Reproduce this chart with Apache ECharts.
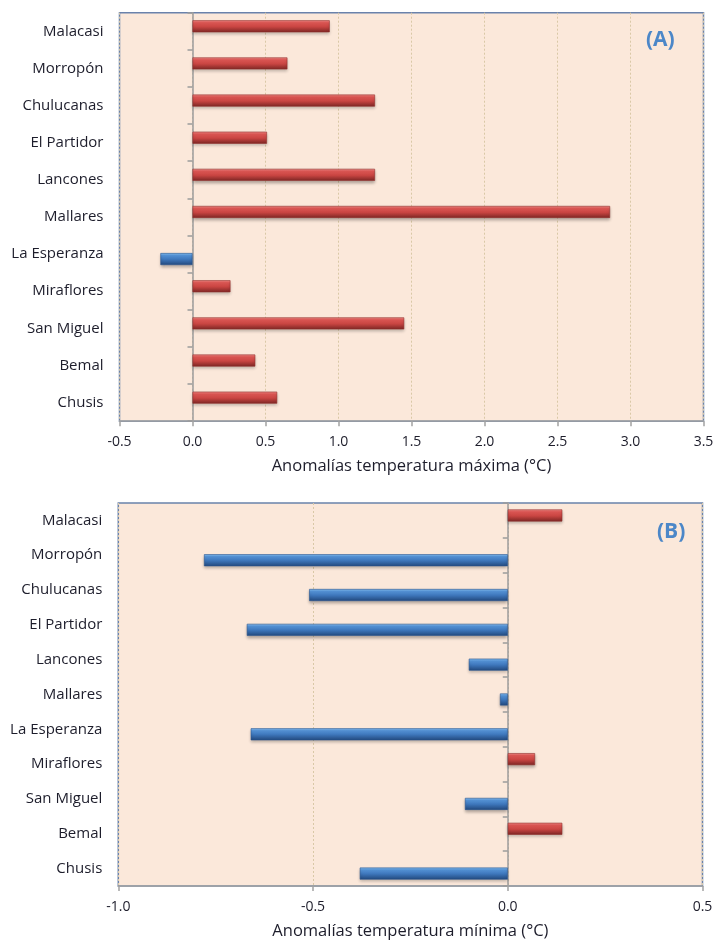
<!DOCTYPE html>
<html>
<head>
<meta charset="utf-8">
<script src="https://cdn.jsdelivr.net/npm/echarts@6/dist/echarts.min.js"></script>
<style>
  html, body { margin: 0; padding: 0; background: #ffffff; }
  #chart { width: 718px; height: 941px; }
</style>
</head>
<body>
<div id="chart"></div>
<script>
// Stations, top to bottom
const stations = ['Malacasi', 'Morropón', 'Chulucanas', 'El Partidor', 'Lancones', 'Mallares',
                  'La Esperanza', 'Miraflores', 'San Miguel', 'Bemal', 'Chusis'];

// Anomalies (°C)
const tmaxAnomaly = [0.94, 0.65, 1.25, 0.51, 1.25, 2.86, -0.22, 0.26, 1.45, 0.43, 0.58];
const tminAnomaly = [0.14, -0.78, -0.51, -0.67, -0.10, -0.02, -0.66, 0.07, -0.11, 0.14, -0.38];

// Value axis ranges
const tmaxRange = [-0.5, 3.5];
const tminRange = [-1.0, 0.5];
const tickStep = 0.5;

const axisTitles = ['Anomalías temperatura máxima (°C)', 'Anomalías temperatura mínima (°C)'];
const panelLabels = ['(A)', '(B)'];

const positives = arr => arr.map(v => (v >= 0 ? v : '-'));
const negatives = arr => arr.map(v => (v < 0 ? v : '-'));

const FONT = 'Open Sans';
const TEXT = '#1d1d2b';

const redFill = new echarts.graphic.LinearGradient(0, 0, 0, 1, [
  { offset: 0, color: '#f28c88' },
  { offset: 0.2, color: '#e35956' },
  { offset: 0.55, color: '#c74441' },
  { offset: 1, color: '#7c2624' }
]);
const blueFill = new echarts.graphic.LinearGradient(0, 0, 0, 1, [
  { offset: 0, color: '#88c2f3' },
  { offset: 0.2, color: '#5696dc' },
  { offset: 0.55, color: '#3c74b8' },
  { offset: 1, color: '#22487c' }
]);

const grids = [
  { left: 119.5, top: 12.7, width: 584, height: 408.5 },
  { left: 118.3, top: 503, width: 584.2, height: 383.7 }
];
const ranges = [tmaxRange, tminRange];
const values = [tmaxAnomaly, tminAnomaly];

const barStyle = (fill, edge) => ({
  color: fill,
  borderColor: edge,
  borderWidth: 0.6,
  shadowBlur: 3,
  shadowOffsetY: 2,
  shadowColor: 'rgba(0,0,0,0.28)'
});

const option = {
  animation: false,
  backgroundColor: '#ffffff',
  grid: grids.map(g => Object.assign({
    show: true,
    backgroundColor: '#fbe8da',
    borderColor: '#6a82ab',
    borderWidth: 1.5,
    containLabel: false
  }, g)),
  xAxis: ranges.map((r, i) => ({
    type: 'value',
    gridIndex: i,
    min: r[0],
    max: r[1],
    interval: tickStep,
    name: axisTitles[i],
    nameLocation: 'middle',
    nameGap: 37,
    nameTextStyle: { fontFamily: FONT, fontSize: 16.5, color: TEXT },
    axisLine: { show: true, onZero: false, lineStyle: { color: '#a3a3a3', width: 1.5 } },
    axisTick: { show: true, length: 5, lineStyle: { color: '#a3a3a3', width: 1.5 } },
    axisLabel: {
      margin: 14,
      fontFamily: FONT,
      fontSize: 14,
      color: TEXT,
      formatter: v => v.toFixed(1)
    },
    splitLine: { show: true, lineStyle: { color: '#d9c8a6', type: [2, 2], width: 1 } }
  })),
  yAxis: [0, 1].flatMap(i => [
    {
      type: 'category',
      gridIndex: i,
      data: stations,
      inverse: true,
      position: 'left',
      axisLine: { show: false, onZero: false },
      axisTick: { show: false },
      axisLabel: { margin: 16, fontFamily: FONT, fontSize: 15, color: TEXT },
      splitLine: { show: false }
    },
    {
      type: 'category',
      gridIndex: i,
      data: stations,
      inverse: true,
      position: 'left',
      axisLine: { show: true, onZero: true, lineStyle: { color: '#9c9c9c', width: 1.5 } },
      axisTick: { show: true, length: 5, lineStyle: { color: '#9c9c9c', width: 1.5 } },
      axisLabel: { show: false },
      splitLine: { show: false }
    }
  ]),
  series: [0, 1].flatMap(i => [
    {
      type: 'bar',
      xAxisIndex: i,
      yAxisIndex: i * 2,
      data: positives(values[i]),
      barWidth: 12,
      barGap: '-17%',
      itemStyle: barStyle(redFill, '#93302e')
    },
    {
      type: 'bar',
      xAxisIndex: i,
      yAxisIndex: i * 2,
      data: negatives(values[i]),
      barWidth: 12,
      barGap: '-17%',
      itemStyle: barStyle(blueFill, '#2a5590')
    }
  ]),
  graphic: [
    { type: 'text', left: 646, top: 30, style: { text: panelLabels[0], fontFamily: FONT, fontWeight: 'bold', fontSize: 21, fill: '#4c87c8' } },
    { type: 'text', left: 657, top: 522, style: { text: panelLabels[1], fontFamily: FONT, fontWeight: 'bold', fontSize: 21, fill: '#4c87c8' } }
  ]
};

const chart = echarts.init(document.getElementById('chart'), null, { renderer: 'canvas' });
chart.setOption(option);
</script>
</body>
</html>
